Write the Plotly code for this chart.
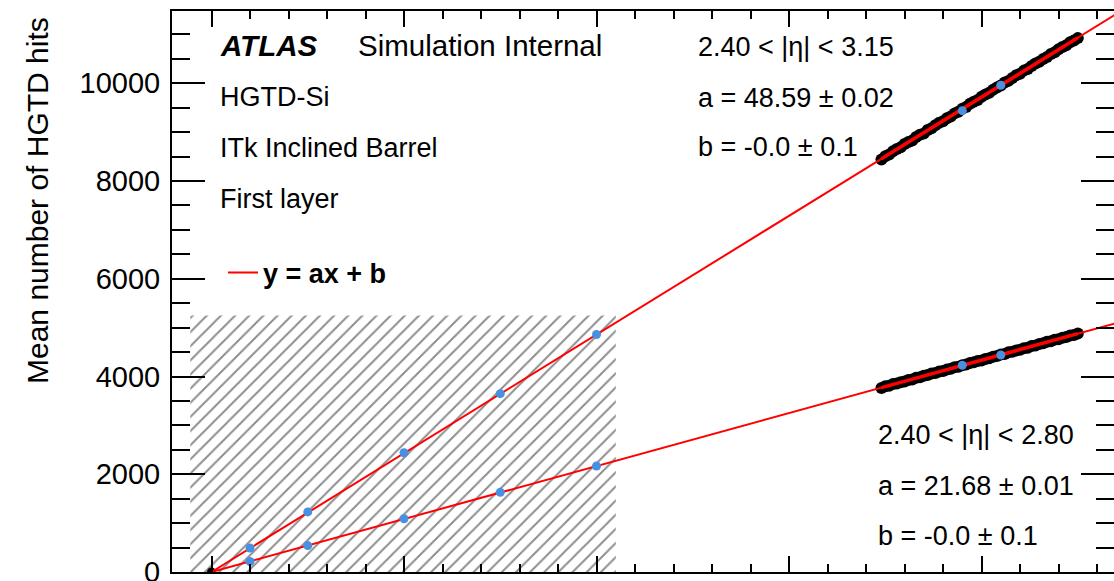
import plotly.graph_objects as go

# ---------------- data ----------------
ORIGIN_X = [0]
ORIGIN_Y = [0]

BLUE_X = [10, 25, 50, 75, 100, 195, 205]
BLUE_Y_UP = [490, 1230, 2440, 3650, 4860, 9440, 9960]
BLUE_Y_LO = [215, 540, 1090, 1630, 2170, 4230, 4440]

SCAN_X = [174, 175, 176, 177, 178, 179, 180, 181, 182, 183, 184, 185, 186, 187, 188, 189,
          190, 191, 192, 193, 194, 195, 196, 197, 198, 199, 200, 201, 202, 203, 204, 205,
          206, 207, 208, 209, 210, 211, 212, 213, 214, 215, 216, 217, 218, 219, 220, 221,
          222, 223, 224, 225]
SCAN_Y_UP = [8440, 8510, 8545, 8610, 8655, 8690, 8760, 8800, 8830, 8900, 8950, 8975, 9045,
             9080, 9140, 9195, 9225, 9285, 9320, 9385, 9420, 9480, 9515, 9580, 9625, 9660,
             9725, 9770, 9805, 9870, 9915, 9955, 10015, 10050, 10110, 10165, 10195, 10260,
             10295, 10355, 10405, 10440, 10500, 10540, 10600, 10635, 10695, 10745, 10780,
             10840, 10875, 10925]
SCAN_Y_LO = [3765, 3800, 3810, 3845, 3855, 3885, 3900, 3930, 3940, 3975, 3985, 4015, 4030,
             4060, 4070, 4105, 4115, 4145, 4160, 4190, 4200, 4230, 4245, 4275, 4290, 4320,
             4330, 4360, 4375, 4405, 4420, 4450, 4460, 4495, 4505, 4535, 4550, 4580, 4590,
             4625, 4635, 4665, 4680, 4710, 4720, 4755, 4765, 4795, 4810, 4840, 4850, 4880]

FIT_A_UP, FIT_B_UP = 48.59, 0.0
FIT_A_LO, FIT_B_LO = 21.68, 0.0
FIT_X = [0, 240]
FIT_RANGE = [174, 225]

HATCH_X = [-5.5, 105]
HATCH_Y = [0, 5250]

Y_TICKVALS = [0, 2000, 4000, 6000, 8000, 10000]
Y_TICKTEXT = ["0", "2000", "4000", "6000", "8000", "10000"]

X_RANGE = [-10.26, 234.4]
Y_RANGE = [0, 11480]

# ---------------- layout helpers ----------------
W, H = 1114, 581
L, T, B = 172, 11, 9
PW, PH = W - L, H - T - B


def px(xp):
    return (xp - L) / PW


def py(yp):
    return (H - B - yp) / PH


FONT = "Liberation Sans, Arial, sans-serif"
RED = "#ff0000"
BLUE = "#4a90e2"

fig = go.Figure()

# hatched region
fig.add_trace(go.Scatter(
    x=[HATCH_X[0], HATCH_X[1], HATCH_X[1], HATCH_X[0], HATCH_X[0]],
    y=[HATCH_Y[0], HATCH_Y[0], HATCH_Y[1], HATCH_Y[1], HATCH_Y[0]],
    mode="lines", line=dict(width=0), fill="toself",
    fillcolor="rgba(0,0,0,0)",
    fillpattern=dict(shape="/", size=10, solidity=0.2, fgcolor="#1a1a1a",
                     bgcolor="rgba(0,0,0,0)", fillmode="overlay"),
    showlegend=False, hoverinfo="skip"))

# dense scan points
for sy in (SCAN_Y_UP, SCAN_Y_LO):
    fig.add_trace(go.Scatter(x=SCAN_X, y=sy, mode="markers",
                             marker=dict(color="black", size=12),
                             showlegend=False))

fig.add_trace(go.Scatter(x=ORIGIN_X, y=ORIGIN_Y, mode="markers",
                         marker=dict(color="black", size=9), showlegend=False))

# fit lines
for i, (a, b) in enumerate(((FIT_A_UP, FIT_B_UP), (FIT_A_LO, FIT_B_LO))):
    fig.add_trace(go.Scatter(x=FIT_X, y=[a * v + b for v in FIT_X], mode="lines",
                             line=dict(color=RED, width=2),
                             name="y = ax + b", showlegend=(i == 0)))
    fig.add_trace(go.Scatter(x=FIT_RANGE, y=[a * v + b for v in FIT_RANGE], mode="lines",
                             line=dict(color=RED, width=3.5), showlegend=False))

# blue points
for by in (BLUE_Y_UP, BLUE_Y_LO):
    fig.add_trace(go.Scatter(x=BLUE_X, y=by, mode="markers",
                             marker=dict(color=BLUE, size=9), showlegend=False))

# dummy for right axis
fig.add_trace(go.Scatter(x=[None], y=[None], yaxis="y2", showlegend=False, hoverinfo="skip"))

ann = []


def text(s, xp, yp, size=27, bold=False, italic=False):
    f = dict(family=FONT, size=size, color="black")
    if bold:
        f["weight"] = "bold"
    if italic:
        f["style"] = "italic"
    ann.append(dict(text=s, x=px(xp), y=py(yp), xref="paper", yref="paper",
                    xanchor="left", yanchor="middle", showarrow=False, font=f))


text("ATLAS", 218, 46, size=29.5, bold=True, italic=True)
text("Simulation Internal", 356, 46, size=29.5)
text("HGTD-Si", 218, 97)
text("ITk Inclined Barrel", 218, 148)
text("First layer", 218, 199)
text("2.40 < |η| < 3.15", 696, 47)
text("a = 48.59 ± 0.02", 696, 98)
text("b = -0.0 ± 0.1", 696, 147)
text("2.40 < |η| < 2.80", 876, 435)
text("a = 21.68 ± 0.01", 876, 486)
text("b = -0.0 ± 0.1", 876, 536)

ann.append(dict(text="Mean number of HGTD hits", textangle=-90,
                x=px(38), y=py(201), xref="paper", yref="paper",
                xanchor="center", yanchor="middle", showarrow=False,
                font=dict(family=FONT, size=30, color="black")))

minor_y = dict(dtick=500, tick0=0, ticklen=18, ticks="inside", tickwidth=2, tickcolor="black")

fig.update_layout(
    width=W, height=H,
    margin=dict(l=L, r=0, t=T, b=B, autoexpand=False),
    paper_bgcolor="white", plot_bgcolor="white",
    annotations=ann,
    legend=dict(x=px(223), y=py(273), xanchor="left", yanchor="middle",
                bgcolor="rgba(0,0,0,0)",
                font=dict(family=FONT, size=27, color="black", weight="bold")),
    xaxis=dict(range=X_RANGE, showgrid=False, zeroline=False, showline=True,
               linecolor="black", linewidth=2, mirror="ticks",
               tickmode="linear", tick0=0, dtick=50, ticks="inside", ticklen=16,
               tickwidth=2, tickcolor="black", showticklabels=False,
               minor=dict(dtick=10, tick0=0, ticklen=8, ticks="inside", tickwidth=2,
                          tickcolor="black")),
    yaxis=dict(range=Y_RANGE, showgrid=False, zeroline=False, showline=True,
               linecolor="black", linewidth=2,
               tickmode="array", tickvals=Y_TICKVALS, ticktext=Y_TICKTEXT,
               ticks="inside", ticklen=33, tickwidth=2, tickcolor="black",
               ticklabelstandoff=4, ticklabeloverflow="allow",
               tickfont=dict(family=FONT, size=29, color="black"),
               minor=minor_y),
    yaxis2=dict(range=Y_RANGE, overlaying="y", side="right", showgrid=False,
                zeroline=False, showline=False, showticklabels=False,
                tickmode="array", tickvals=Y_TICKVALS,
                ticks="inside", ticklen=33, tickwidth=2, tickcolor="black",
                minor=minor_y),
)

fig.write_html("out.html")
